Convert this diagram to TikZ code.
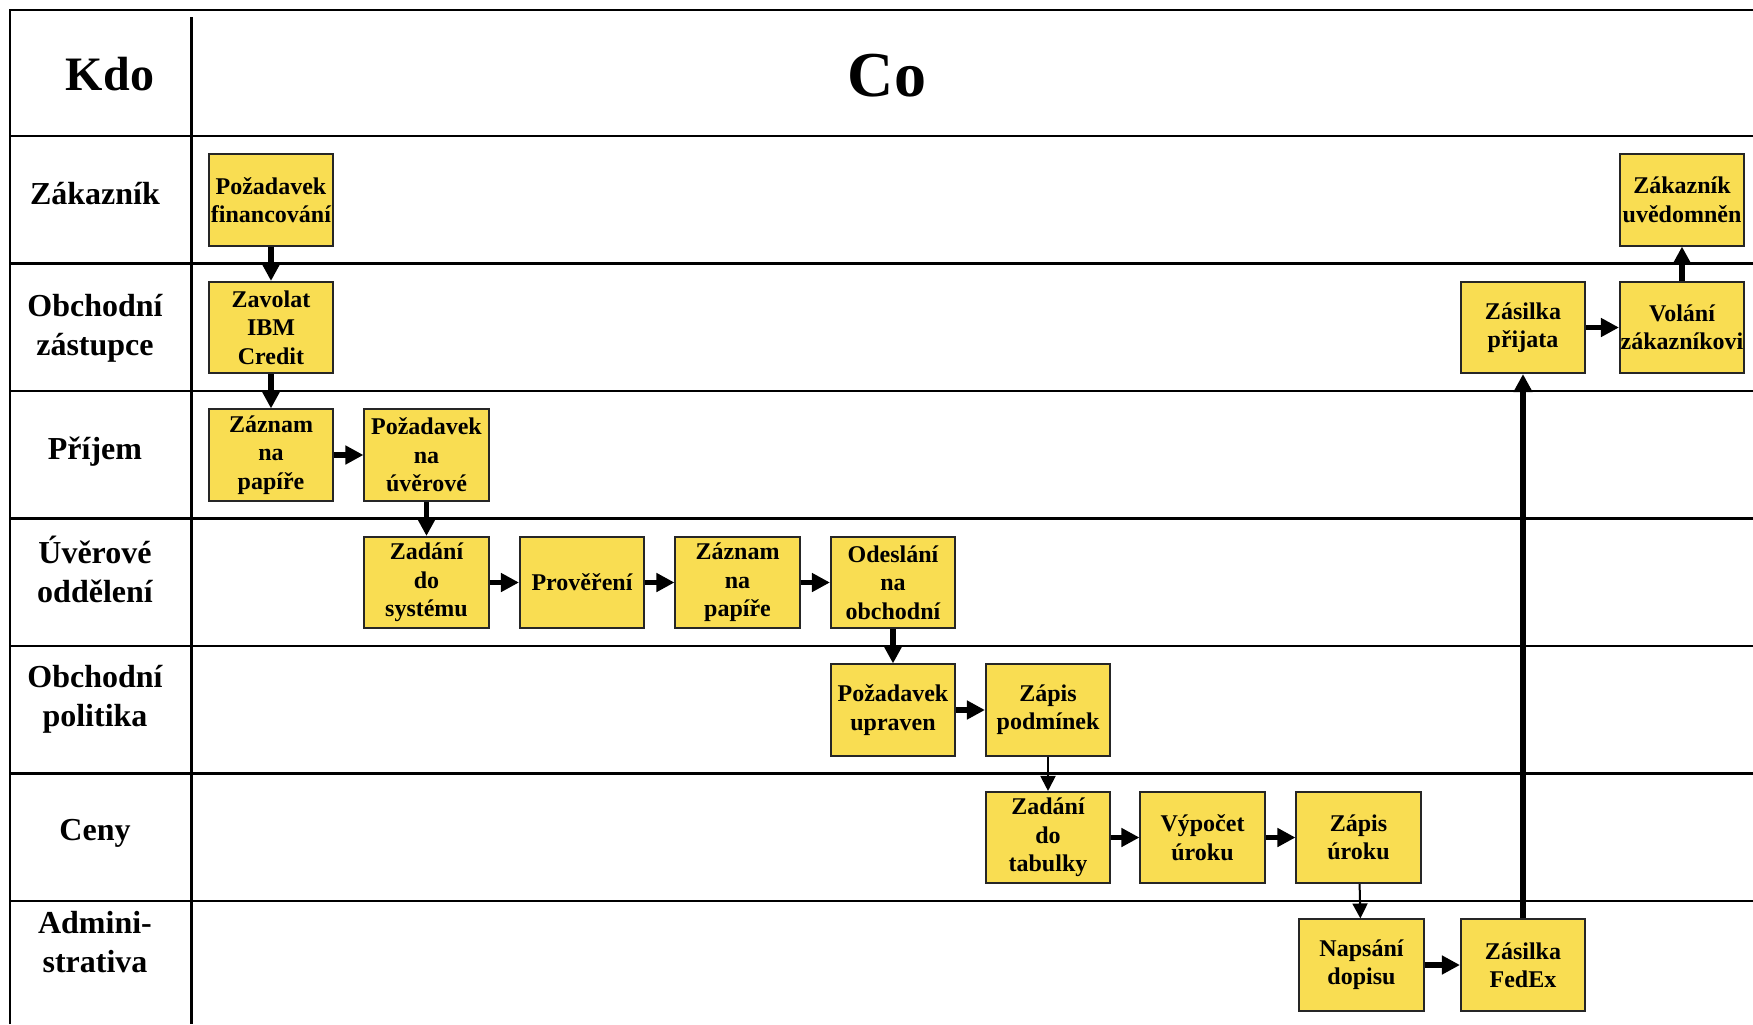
\documentclass[tikz,border=0pt]{standalone}
\usepackage{fontspec}
\setmainfont{Liberation Serif}
\usetikzlibrary{arrows.meta}
\definecolor{boxyellow}{RGB}{249,221,82}

\begin{document}
\begin{tikzpicture}[x=0.5pt,y=-0.5pt,
  frame/.style={line width=1.1pt, black},
  lanelabel/.style={font=\fontsize{16}{19.5}\selectfont\bfseries, align=center, anchor=base, inner sep=0pt},
  task/.style={draw=black!85, line width=0.8pt, fill=boxyellow,
    minimum width=62.25pt, minimum height=45.75pt, inner sep=0pt,
    align=center, font=\fontsize{12}{14.2}\selectfont\bfseries},
  bigflow/.style={line width=2.9pt, -{Triangle[length=9pt,width=9pt]}},
  smallflow/.style={line width=1pt, -{Triangle[length=7.5pt,width=7.5pt]}}
]
\useasboundingbox (0,0) rectangle (1753,1024);

% grid of swimlanes
\draw[frame] (10,1024) -- (10,10) -- (1753,10);
\draw[frame] (191.5,17) -- (191.5,1024);
\foreach \y in {136,263.5,391,518.5,646,773.5,901}
  \draw[frame] (10,\y) -- (1753,\y);

% header
\node[font=\fontsize{24}{28}\selectfont\bfseries, anchor=base, inner sep=0pt] (kdo) at (110,90.7) {Kdo};
\node[font=\fontsize{32}{36}\selectfont\bfseries, anchor=base, inner sep=0pt] (co) at (887,96) {Co};

% lane names (anchored at the baseline of the last line)
\node[lanelabel] (l1) at (95,204) {Zákazník};
\node[lanelabel] (l2) at (95,355) {Obchodní\\zástupce};
\node[lanelabel] (l3) at (95,459.3) {Příjem};
\node[lanelabel] (l4) at (95,602.7) {Úvěrové\\oddělení};
\node[lanelabel] (l5) at (95,726.7) {Obchodní\\politika};
\node[lanelabel] (l6) at (95,840) {Ceny};
\node[lanelabel] (l7) at (95,972) {Admini-\\strativa};

% activities
\node[task] (t1) at (271,200) {Požadavek\\financování};
\node[task] (t2) at (271,327.5) {Zavolat\\IBM\\Credit};
\node[task] (t3) at (271,455) {Záznam\\na\\papíře};
\node[task] (t4) at (426.5,455) {Požadavek\\na\\úvěrové};
\node[task] (t5) at (426.5,582.5) {Zadání\\do\\systému};
\node[task] (t6) at (582,582.5) {Prověření};
\node[task] (t7) at (737.5,582.5) {Záznam\\na\\papíře};
\node[task] (t8) at (893,582.5) {Odeslání\\na\\obchodní};
\node[task] (t9) at (893,710) {Požadavek\\upraven};
\node[task] (t10) at (1048,710) {Zápis\\podmínek};
\node[task] (t11) at (1048,837.5) {Zadání\\do\\tabulky};
\node[task] (t12) at (1202.5,837.5) {Výpočet\\úroku};
\node[task] (t13) at (1358.5,837.5) {Zápis\\úroku};
\node[task] (t14) at (1361.5,965) {Napsání\\dopisu};
\node[task] (t15) at (1523,965) {Zásilka\\FedEx};
\node[task] (t16) at (1523,327.5) {Zásilka\\přijata};
\node[task] (t17) at (1682,327.5) {Volání\\zákazníkovi};
\node[task] (t18) at (1682,200) {Zákazník\\uvědomněn};

% flow
\draw[bigflow] (t1) -- (t2);
\draw[bigflow] (t2) -- (t3);
\draw[bigflow] (t3) -- (t4);
\draw[bigflow] (t4) -- (t5);
\draw[bigflow] (t5) -- (t6);
\draw[bigflow] (t6) -- (t7);
\draw[bigflow] (t7) -- (t8);
\draw[bigflow] (t8) -- (t9);
\draw[bigflow] (t9) -- (t10);
\draw[smallflow] (t10) -- (t11);
\draw[bigflow] (t11) -- (t12);
\draw[bigflow] (t12) -- (t13);
\draw[smallflow] (t13) -- (t14);
\draw[bigflow] (t14) -- (t15);
\draw[bigflow] (t15) -- (t16);
\draw[bigflow] (t16) -- (t17);
\draw[bigflow] (t17) -- (t18);
\end{tikzpicture}
\end{document}
